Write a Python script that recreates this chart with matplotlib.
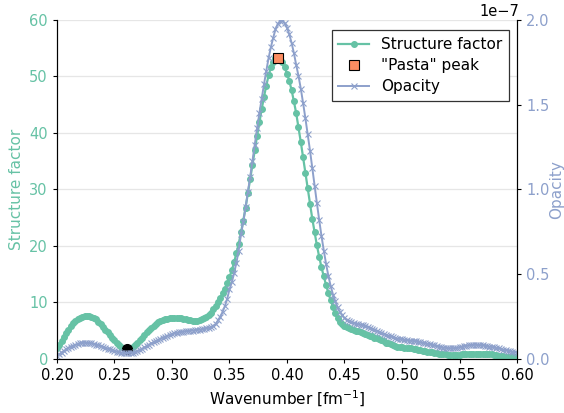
import numpy as np
import matplotlib
matplotlib.use("Agg")
import matplotlib.pyplot as plt
from matplotlib.ticker import FormatStrFormatter

# Wavenumber grid [fm^-1]
k_start, k_stop, k_step = 0.20, 0.60, 0.002

structure_factor = [
    1.9, 2.5, 3.2, 3.9, 4.6, 5.2, 5.8, 6.3, 6.7, 7.0,
    7.3, 7.5, 7.6, 7.6, 7.6, 7.5, 7.3, 7.0, 6.6, 6.2,
    5.7, 5.2, 4.7, 4.2, 3.7, 3.3, 2.9, 2.5, 2.2, 1.9,
    1.8, 1.8, 1.9, 2.1, 2.5, 2.9, 3.3, 3.8, 4.3, 4.7,
    5.1, 5.5, 5.9, 6.2, 6.5, 6.7, 6.9, 7.0, 7.1, 7.2,
    7.3, 7.3, 7.3, 7.3, 7.2, 7.1, 7.0, 6.9, 6.9, 6.8,
    6.8, 6.8, 6.9, 7.0, 7.2, 7.4, 7.8, 8.2, 8.8, 9.4,
    10.1, 10.8, 11.6, 12.4, 13.4, 14.5, 15.7, 17.1, 18.7, 20.4,
    22.4, 24.5, 26.8, 29.3, 31.8, 34.4, 37.0, 39.5, 41.9, 44.2,
    46.4, 48.4, 50.2, 51.6, 52.6, 53.2, 53.4, 53.1, 52.5, 51.6,
    50.5, 49.2, 47.6, 45.6, 43.5, 41.0, 38.4, 35.7, 32.9, 30.2,
    27.5, 24.8, 22.4, 20.1, 18.1, 16.2, 14.6, 13.1, 11.6, 10.4,
    9.2, 8.1, 7.2, 6.6, 6.2, 5.9, 5.7, 5.5, 5.3, 5.2,
    5.0, 4.9, 4.7, 4.6, 4.4, 4.3, 4.1, 4.0, 3.8, 3.7,
    3.5, 3.3, 3.1, 2.9, 2.8, 2.6, 2.5, 2.3, 2.2, 2.2,
    2.1, 2.0, 2.0, 1.9, 1.9, 1.8, 1.7, 1.6, 1.6, 1.5,
    1.4, 1.3, 1.2, 1.2, 1.1, 1.0, 0.9, 0.9, 0.8, 0.8,
    0.7, 0.7, 0.7, 0.7, 0.7, 0.7, 0.8, 0.8, 0.8, 0.9,
    0.9, 0.9, 0.9, 0.9, 0.9, 0.9, 0.9, 0.8, 0.8, 0.8,
    0.7, 0.7, 0.6, 0.6, 0.5, 0.4, 0.4, 0.4, 0.3, 0.3,
    0.3,
]

# Opacity in units of 1e-7
opacity_e7 = [
    0.018, 0.028, 0.038, 0.048, 0.057, 0.066, 0.073, 0.079, 0.084, 0.088,
    0.092, 0.094, 0.095, 0.095, 0.094, 0.092, 0.089, 0.085, 0.081, 0.076,
    0.071, 0.066, 0.061, 0.056, 0.052, 0.048, 0.044, 0.040, 0.037, 0.036,
    0.035, 0.035, 0.036, 0.038, 0.042, 0.047, 0.053, 0.060, 0.068, 0.076,
    0.084, 0.092, 0.099, 0.106, 0.113, 0.120, 0.126, 0.132, 0.137, 0.142,
    0.147, 0.151, 0.154, 0.157, 0.160, 0.162, 0.164, 0.165, 0.167, 0.168,
    0.170, 0.171, 0.173, 0.175, 0.177, 0.180, 0.184, 0.189, 0.196, 0.206,
    0.228, 0.250, 0.278, 0.312, 0.355, 0.410, 0.452, 0.505, 0.568, 0.640,
    0.735, 0.810, 0.895, 0.985, 1.075, 1.170, 1.265, 1.360, 1.450, 1.535,
    1.620, 1.700, 1.775, 1.840, 1.895, 1.945, 1.978, 1.994, 1.996, 1.982,
    1.955, 1.915, 1.865, 1.805, 1.735, 1.670, 1.595, 1.510, 1.420, 1.325,
    1.230, 1.125, 1.020, 0.920, 0.820, 0.725, 0.640, 0.560, 0.490, 0.430,
    0.380, 0.340, 0.305, 0.278, 0.258, 0.242, 0.231, 0.223, 0.217, 0.212,
    0.209, 0.205, 0.202, 0.198, 0.194, 0.190, 0.185, 0.179, 0.173, 0.166,
    0.160, 0.154, 0.148, 0.142, 0.137, 0.133, 0.128, 0.124, 0.120, 0.117,
    0.115, 0.113, 0.111, 0.109, 0.108, 0.106, 0.104, 0.101, 0.098, 0.095,
    0.092, 0.089, 0.086, 0.083, 0.080, 0.076, 0.073, 0.070, 0.067, 0.065,
    0.063, 0.063, 0.063, 0.064, 0.066, 0.069, 0.072, 0.075, 0.078, 0.080,
    0.082, 0.083, 0.083, 0.083, 0.082, 0.080, 0.078, 0.076, 0.073, 0.070,
    0.068, 0.065, 0.062, 0.058, 0.055, 0.052, 0.049, 0.046, 0.043, 0.040,
    0.037,
]

# Highlighted points
pasta_peak_k, pasta_peak_sf = 0.392, 53.3
minimum_k, minimum_sf = 0.261, 1.8

k = np.round(np.arange(k_start, k_stop + k_step / 2, k_step), 4)
sf = np.array(structure_factor)
op = np.array(opacity_e7) * 1e-7
assert len(k) == len(sf) == len(op)

c_sf = "#66c2a5"
c_peak = "#fc8d62"
c_op = "#8da0cb"

plt.rcParams["font.family"] = ["DejaVu Sans"]
plt.rcParams["font.size"] = 11

fig = plt.figure(figsize=(5.64, 4.13), dpi=100)
ax = fig.add_axes([0.101, 0.1308, 0.8157, 0.8208])
ax2 = ax.twinx()

ax.set_axisbelow(True)
ax.yaxis.grid(True, color="#e6e6e6", linewidth=0.9)

h_sf, = ax.plot(k, sf, color=c_sf, linewidth=1.6, marker="o", markersize=4,
                label="Structure factor", zorder=3)
ax.plot([minimum_k], [minimum_sf], "o", color="black", markersize=7, zorder=4)
h_peak, = ax.plot([pasta_peak_k], [pasta_peak_sf], "s", color=c_peak,
                  markeredgecolor="black", markeredgewidth=0.8, markersize=7,
                  linestyle="none", label='"Pasta" peak', zorder=5)

h_op, = ax2.plot(k, op, color=c_op, linewidth=1.4, marker="x", markersize=5,
                 markeredgewidth=0.8, label="Opacity")

ax.set_xlim(0.20, 0.60)
ax.set_ylim(0, 60)
ax2.set_ylim(0, 2.0e-7)
ax.set_xticks(np.arange(0.20, 0.601, 0.05))
ax.xaxis.set_major_formatter(FormatStrFormatter("%.2f"))
ax.set_yticks(np.arange(0, 61, 10))
ax2.set_yticks(np.arange(0, 2.01e-7, 0.5e-7))

ax.set_xlabel("Wavenumber [fm$^{-1}$]")
ax.set_ylabel("Structure factor", color=c_sf, labelpad=4)
ax2.set_ylabel("Opacity", color=c_op, labelpad=0)
ax.tick_params(axis="y", color="black", labelcolor=c_sf, length=3,
               labelsize=10.5)
ax2.tick_params(axis="y", color="black", labelcolor=c_op, length=3,
                labelsize=10.5)
ax.tick_params(axis="x", length=3, labelsize=10.5)

offset = ax2.yaxis.get_offset_text()
offset.set_fontsize(10.5)
offset.set_color("black")
offset.set_horizontalalignment("right")
offset.set_x(1.006)

for a in (ax, ax2):
    a.spines["top"].set_visible(False)
    for s in ("left", "right", "bottom"):
        a.spines[s].set_color("black")

leg = ax2.legend(handles=[h_sf, h_peak, h_op], loc="upper right",
                 fancybox=False, edgecolor="#333333", framealpha=1.0,
                 bbox_to_anchor=(1.0, 0.993), handlelength=2.0,
                 borderpad=0.45, labelspacing=0.4)
leg.get_frame().set_linewidth(0.9)

fig.savefig("out.png", dpi=100)
